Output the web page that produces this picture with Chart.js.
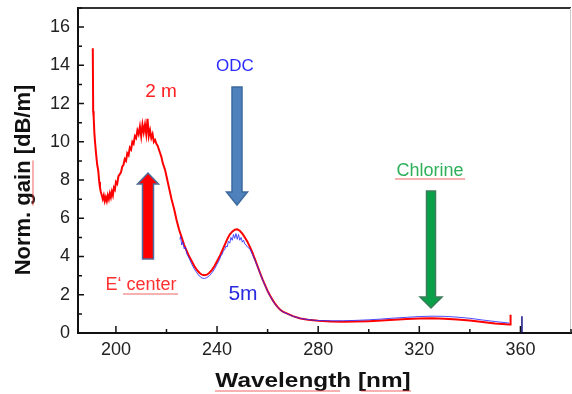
<!DOCTYPE html>
<html>
<head>
<meta charset="utf-8">
<script src="https://cdn.jsdelivr.net/npm/chart.js@4.4.1/dist/chart.umd.min.js"></script>
<style>
  html, body { margin: 0; padding: 0; background: #fff; }
</style>
</head>
<body>
<canvas id="chart" width="572" height="394"></canvas>
<script>
// axis ticks
const xTicks = [200, 240, 280, 320, 360];
const xMinor = [220, 260, 300, 340, 380];
const yTicks = [0, 2, 4, 6, 8, 10, 12, 14, 16];
const yMinor = [1, 3, 5, 7, 9, 11, 13, 15, 17];

// 2 m fibre, [wavelength nm, gain dB/m]
const red2m = [
  [190.85, 14.9], [191.0, 11.6], [191.2, 11.3], [191.5, 10.4], [191.8, 9.9], [192.2, 9.3],
  [192.6, 8.8], [193.0, 8.5], [193.4, 7.9], [193.7, 7.6], [194.0, 7.4], [194.4, 7.2],
  [194.8, 7.0], [195.2, 7.2], [195.6, 6.9], [196.0, 7.1], [196.4, 6.9], [196.8, 7.2],
  [197.2, 7.0], [197.6, 7.3], [198.0, 7.1], [198.4, 7.4], [198.8, 7.2], [199.2, 7.6],
  [199.6, 7.5], [200.0, 7.9], [200.5, 7.8], [201.0, 8.2], [201.5, 8.3], [202.0, 8.4],
  [202.5, 8.7], [203.0, 8.8], [203.5, 9.1], [204.0, 9.0], [204.5, 9.4], [205.0, 9.3],
  [205.5, 9.7], [206.0, 9.6], [206.5, 10.0], [207.0, 9.9], [207.5, 10.3], [208.0, 10.2],
  [208.5, 10.6], [209.0, 10.4], [209.5, 10.8], [210.0, 10.3], [210.5, 10.9], [211.0, 10.5],
  [211.5, 10.9], [212.0, 10.4], [212.5, 11.2], [213.0, 10.3], [213.5, 10.6], [214.0, 10.2],
  [214.5, 10.4], [215.0, 10.0], [215.5, 10.1], [216.0, 9.9], [216.5, 9.8], [217.0, 9.6],
  [217.5, 9.4], [218.0, 9.2], [218.5, 8.9], [219.0, 8.7], [219.5, 8.5], [220.0, 8.2],
  [221, 7.6], [222, 7.0], [223, 6.5], [224, 5.9], [225, 5.4], [226, 5.0], [227, 4.6],
  [228, 4.3], [229, 4.0], [230, 3.75], [231, 3.5], [232, 3.3], [233, 3.15], [234, 3.05],
  [235, 3.02], [236, 3.05], [237, 3.15], [238, 3.3], [239, 3.5], [240, 3.75], [241, 4.0],
  [242, 4.3], [243, 4.6], [244, 4.9], [245, 5.15], [246, 5.3], [247, 5.4], [248, 5.42],
  [249, 5.35], [250, 5.2], [251, 5.0], [252, 4.78], [253, 4.5], [254, 4.2], [255, 3.85],
  [256, 3.5], [257, 3.15], [258, 2.8], [259, 2.5], [260, 2.2], [261, 1.95], [262, 1.72],
  [263, 1.52], [264, 1.35], [265, 1.22], [266, 1.12], [268, 1.0], [270, 0.88], [273, 0.76],
  [276, 0.69], [280, 0.64], [285, 0.6], [290, 0.59], [295, 0.6], [300, 0.62], [305, 0.65],
  [310, 0.69], [315, 0.73], [320, 0.76], [325, 0.77], [330, 0.75], [335, 0.71], [340, 0.65],
  [345, 0.57], [350, 0.5], [355.5, 0.44], [356.0, 0.44], [356.1, 0.95]
];

// 5 m fibre
const blue5m = [
  [225.3, 4.9], [225.6, 5.05], [226.0, 4.6], [226.5, 4.75], [227.0, 4.4], [227.5, 4.5],
  [228, 4.15], [229, 3.9], [230, 3.6], [231, 3.35], [232, 3.15], [233, 2.98], [234, 2.88],
  [235, 2.85], [236, 2.9], [237, 3.0], [238, 3.15], [239, 3.35], [240, 3.6], [241, 3.85],
  [241.5, 4.05], [242, 4.1], [242.5, 4.3], [243, 4.35], [243.5, 4.55], [244, 4.5],
  [244.5, 4.8], [245, 4.7], [245.5, 5.0], [246, 4.85], [246.5, 5.15], [247, 4.95],
  [247.5, 5.2], [248, 4.9], [248.5, 5.15], [249, 4.85], [249.5, 5.0], [250, 4.75],
  [250.5, 4.85], [251, 4.65], [251.5, 4.6], [252, 4.5], [253, 4.4], [254, 4.1], [255, 3.8],
  [256, 3.48], [257, 3.13], [258, 2.78], [259, 2.48], [260, 2.18], [261, 1.93], [262, 1.7],
  [263, 1.5], [264, 1.34], [265, 1.21], [266, 1.11], [268, 0.99], [270, 0.87], [273, 0.76],
  [276, 0.7], [280, 0.65], [285, 0.64], [290, 0.64], [295, 0.66], [300, 0.69], [305, 0.73],
  [310, 0.78], [315, 0.82], [320, 0.86], [325, 0.88], [330, 0.87], [335, 0.83], [340, 0.77],
  [345, 0.68], [350, 0.6], [355.5, 0.52]
];
const blueEnd = [[360.6, 0.0], [360.6, 0.88]];

function pts(arr) {
  return arr.map(p => ({ x: p[0], y: p[1] }));
}

function arrow(ctx, x, yTail, yTip, shaftW, headW, headLen, fill, stroke) {
  const dir = yTip < yTail ? -1 : 1;
  const yBase = yTip - dir * headLen;
  ctx.beginPath();
  ctx.moveTo(x - shaftW / 2, yTail);
  ctx.lineTo(x - shaftW / 2, yBase);
  ctx.lineTo(x - headW / 2, yBase);
  ctx.lineTo(x, yTip);
  ctx.lineTo(x + headW / 2, yBase);
  ctx.lineTo(x + shaftW / 2, yBase);
  ctx.lineTo(x + shaftW / 2, yTail);
  ctx.closePath();
  ctx.fillStyle = fill;
  ctx.fill();
  ctx.lineWidth = 1.5;
  ctx.strokeStyle = stroke;
  ctx.stroke();
}

function label(ctx, txt, x, y, color, size) {
  ctx.font = size + 'px "Liberation Sans", Arial, sans-serif';
  ctx.fillStyle = color;
  ctx.textAlign = 'center';
  ctx.textBaseline = 'alphabetic';
  ctx.fillText(txt, x, y);
}

function squiggle(ctx, x1, x2, y) {
  ctx.beginPath();
  ctx.moveTo(x1, y);
  ctx.lineTo(x2, y);
  ctx.lineWidth = 1;
  ctx.strokeStyle = 'rgba(235,60,60,0.8)';
  ctx.stroke();
}

const decor = {
  id: 'decor',
  afterDraw(chart) {
    const ctx = chart.ctx;
    const a = chart.chartArea;
    const xs = chart.scales.x, ys = chart.scales.y;
    ctx.save();

    // frame
    ctx.strokeStyle = '#333';
    ctx.lineWidth = 2;
    ctx.beginPath();
    ctx.moveTo(a.left, a.top);
    ctx.lineTo(a.right, a.top);
    ctx.stroke();
    ctx.strokeStyle = '#ccc';
    ctx.lineWidth = 1;
    ctx.beginPath();
    ctx.moveTo(a.right - 0.5, a.top);
    ctx.lineTo(a.right - 0.5, a.bottom);
    ctx.stroke();

    // inward ticks
    ctx.strokeStyle = '#111';
    ctx.lineWidth = 1.5;
    ctx.beginPath();
    xTicks.forEach(v => { const p = xs.getPixelForValue(v); ctx.moveTo(p, a.bottom); ctx.lineTo(p, a.bottom - 7); });
    xMinor.forEach(v => { const p = xs.getPixelForValue(v); ctx.moveTo(p, a.bottom); ctx.lineTo(p, a.bottom - 4); });
    yTicks.forEach(v => { const p = ys.getPixelForValue(v); ctx.moveTo(a.left, p); ctx.lineTo(a.left + 6, p); });
    yMinor.forEach(v => { const p = ys.getPixelForValue(v); ctx.moveTo(a.left, p); ctx.lineTo(a.left + 4, p); });
    ctx.stroke();

    // axis titles
    ctx.fillStyle = '#111';
    ctx.font = 'bold 21px "Liberation Sans", Arial, sans-serif';
    ctx.textAlign = 'center';
    ctx.textBaseline = 'alphabetic';
    ctx.save();
    ctx.translate(313, 387);
    ctx.scale(1.16, 1);
    ctx.fillText('Wavelength [nm]', 0, 0);
    ctx.restore();
    squiggle(ctx, 215, 340, 391);
    squiggle(ctx, 361, 411, 391);

    ctx.save();
    ctx.translate(30, 180);
    ctx.rotate(-Math.PI / 2);
    ctx.font = 'bold 22px "Liberation Sans", Arial, sans-serif';
    ctx.fillStyle = '#111';
    ctx.fillText('Norm. gain [dB/m]', 0, 0);
    const full = ctx.measureText('Norm. gain [dB/m]').width;
    const pre = ctx.measureText('Norm. ').width;
    const g = ctx.measureText('gain').width;
    squiggle(ctx, -full / 2 + pre, -full / 2 + pre + g, 3);
    ctx.restore();

    // annotations
    arrow(ctx, 148, 259, 173, 11, 21, 11, '#ff0000', '#4d6d9a');
    arrow(ctx, 237, 87, 205, 10, 21, 13, '#4f81bd', '#3d6a9e');
    arrow(ctx, 431, 191, 308, 9, 22, 11, '#0aa04a', '#3a7d5a');

    label(ctx, '2 m', 161, 97, '#ff2020', 19);
    label(ctx, 'ODC', 235, 71, '#2b2bff', 17);
    label(ctx, 'E\u2018 center', 141, 290, '#ff3030', 18);
    squiggle(ctx, 123, 178, 294);
    label(ctx, '5m', 243, 300, '#2a2ae0', 21);
    label(ctx, 'Chlorine', 430, 176, '#2eb05a', 18);
    squiggle(ctx, 395, 465, 179);

    ctx.restore();
  }
};

const ctx = document.getElementById('chart');
const chart = new Chart(ctx, {
  type: 'scatter',
  data: {
    datasets: [
      {
        label: '5 m',
        data: pts(blue5m),
        showLine: true,
        borderColor: 'rgba(45,45,255,0.85)',
        borderWidth: 1,
        pointRadius: 0,
        order: 1
      },
      {
        label: '5 m end',
        data: pts(blueEnd),
        showLine: true,
        borderColor: '#10108a',
        borderWidth: 1.5,
        pointRadius: 0,
        order: 1
      },
      {
        label: '2 m',
        data: pts(red2m),
        showLine: true,
        borderColor: '#ff0000',
        borderWidth: 2,
        pointRadius: 0,
        order: 2
      }
    ]
  },
  options: {
    responsive: false,
    animation: false,
    layout: { padding: { top: 8, right: 1, left: 0, bottom: 0 } },
    plugins: { legend: { display: false }, tooltip: { enabled: false } },
    scales: {
      x: {
        type: 'linear',
        min: 185,
        max: 380,
        afterBuildTicks: s => { s.ticks = xTicks.map(v => ({ value: v })); },
        afterFit: s => { s.height = 61; s.paddingLeft = 0; s.paddingRight = 0; },
        grid: { display: false, drawTicks: false },
        border: { display: true, color: '#111', width: 2 },
        ticks: { font: { family: 'Liberation Sans', size: 18 }, color: '#222', padding: 6, maxRotation: 0 }
      },
      y: {
        min: 0,
        max: 17,
        afterBuildTicks: s => { s.ticks = yTicks.map(v => ({ value: v })); },
        afterFit: s => { s.width = 78; s.paddingTop = 0; s.paddingBottom = 0; },
        grid: { display: false, drawTicks: false },
        border: { display: true, color: '#111', width: 2 },
        ticks: { font: { family: 'Liberation Sans', size: 18 }, color: '#222', padding: 8 }
      }
    }
  },
  plugins: [decor]
});
</script>
</body>
</html>
